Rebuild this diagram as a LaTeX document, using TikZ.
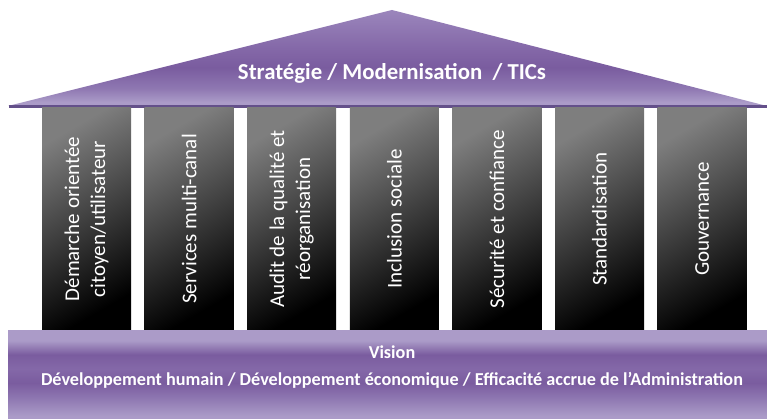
\documentclass[tikz,border=0pt]{standalone}
\usepackage{fontspec}
\setmainfont{Carlito}
\usetikzlibrary{positioning}
\definecolor{roofdark}{HTML}{7A5C9F}
\definecolor{rooftop}{HTML}{9B86BC}
\definecolor{roofmid}{HTML}{8468A8}
\definecolor{roofpale}{HTML}{8F78B2}
\definecolor{rooflight}{HTML}{AB9BC8}
\definecolor{roofedge}{HTML}{64508A}
\definecolor{pillargray}{HTML}{7E7E7E}
\pgfdeclareverticalshading{roofshade}{100bp}{color(0bp)=(rooflight); color(27bp)=(rooflight);
  color(34bp)=(roofpale); color(45bp)=(roofdark); color(55bp)=(roofmid); color(75bp)=(rooftop);
  color(100bp)=(rooftop)}
\pgfdeclareverticalshading{baseshade}{100bp}{color(0bp)=(rooflight); color(26bp)=(rooflight);
  color(36bp)=(roofpale); color(45bp)=(roofdark); color(53bp)=(roofmid); color(61bp)=(roofdark);
  color(69bp)=(rooflight); color(100bp)=(rooflight)}
\tikzset{
every picture/.style={
x=1pt, y=1pt
}}
\tikzset{
  pillar/.style={rectangle, inner sep=0pt, outer sep=0pt,
    minimum width=89pt, minimum height=222pt,
    top color=pillargray, bottom color=black, shading angle=30},
  pillartext/.style={rotate=90, align=center, text=white,
    font=\fontsize{21}{26}\selectfont},
  bandtext/.style={text=white, font=\bfseries\fontsize{18.2}{22}\selectfont},
}

\begin{document}
\begin{tikzpicture}[node distance=13.6pt]
  \useasboundingbox (0,0) rectangle (767,418);
  % roof:
  \shade[shading=roofshade] (8,312) -- (392,408) -- (767,312) -- cycle;
  \fill[roofedge] (9,309.5) rectangle (767,312.5);
  \node[bandtext, font=\bfseries\fontsize{22.8}{26}\selectfont] (roof) at (392,345)
    {Stratégie / Modernisation~ / TICs};
  %
  % pillars:
  \node[pillar] (p1) at (86.5,199) {};
  \node[pillar, right=of p1] (p2) {};
  \node[pillar, right=of p2] (p3) {};
  \node[pillar, right=of p3] (p4) {};
  \node[pillar, right=of p4] (p5) {};
  \node[pillar, right=of p5] (p6) {};
  \node[pillar, right=of p6] (p7) {};
  \node[pillartext] (t1) at (p1) {Démarche orientée\\citoyen/utilisateur};
  \node[pillartext] (t2) at (p2) {Services multi-canal};
  \node[pillartext] (t3) at (p3) {Audit de la qualité et\\réorganisation};
  \node[pillartext] (t4) at (p4) {Inclusion sociale};
  \node[pillartext] (t5) at (p5) {Sécurité et confiance};
  \node[pillartext] (t6) at (p6) {Standardisation};
  \node[pillartext] (t7) at (p7) {Gouvernance};
  %
  % base:
  \shade[shading=baseshade] (8,0) rectangle (767,88);
  \node[bandtext] (vision) at (392,66) {Vision};
  \node[bandtext] (goals) at (392,38)
    {Développement humain / Développement économique / Efficacité accrue de l’Administration};
\end{tikzpicture}
\end{document}
